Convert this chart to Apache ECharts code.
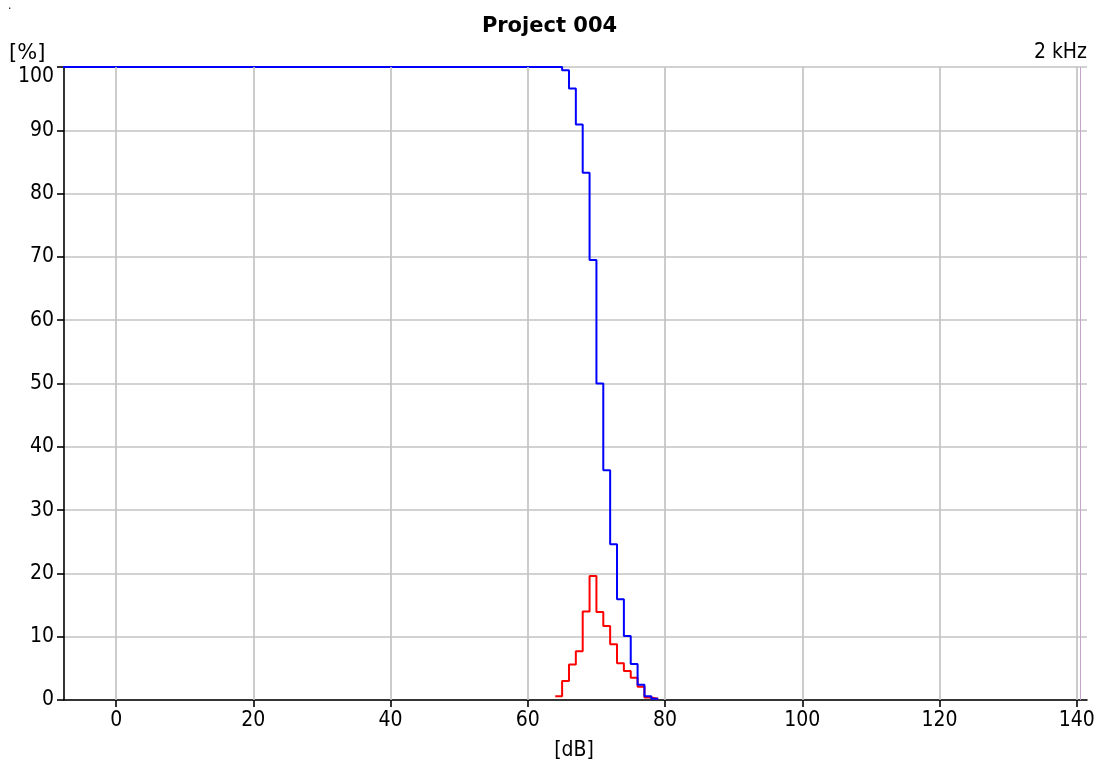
<!DOCTYPE html>
<html>
<head>
<meta charset="utf-8">
<script src="https://cdn.jsdelivr.net/npm/echarts@6/dist/echarts.min.js"></script>
<style>
  html, body { margin: 0; padding: 0; background: #fff; }
  #chart { width: 1099px; height: 767px; }
</style>
</head>
<body>
<div id="chart"></div>
<script>
// Level bins in dB (lower edge of each 1 dB bin)
const binStarts = [64, 65, 66, 67, 68, 69, 70, 71, 72, 73, 74, 75, 76, 77, 78];
// Percentage of samples falling in each bin
const histogram = [0.6, 3.0, 5.6, 7.7, 14.0, 19.6, 13.9, 11.7, 8.8, 5.8, 4.6, 3.5, 2.1, 0.4, 0.2];
// Percentage of samples at or above the upper edge of each bin
const exceedance = [100, 99.5, 96.6, 90.9, 83.3, 69.5, 50.0, 36.3, 24.6, 15.9, 10.1, 5.7, 2.4, 0.6, 0.2];
const binEnd = 79;
const levelStart = -8;

const xTicks = [0, 20, 40, 60, 80, 100, 120, 140];
const markerDb = 140.5;

const FONT = "'DejaVu Sans Condensed', 'DejaVu Sans', sans-serif";
const WIDE_FONT = "'DejaVu Sans', sans-serif";
const FS = 21;

// Step series: each point holds its value until the next bin edge
const blueData = [[levelStart, 100]];
binStarts.forEach((b, i) => { if (i > 0) blueData.push([b, exceedance[i]]); });
blueData.push([binEnd, exceedance[exceedance.length - 1]]);

const redData = binStarts.map((b, i) => [b, histogram[i]]);
redData.push([binEnd, histogram[histogram.length - 1]]);

const chart = echarts.init(document.getElementById('chart'), null, { renderer: 'canvas' });

chart.setOption({
  animation: false,
  backgroundColor: '#ffffff',
  title: {
    text: 'Project 004',
    left: 'center',
    top: 11,
    textStyle: { fontFamily: WIDE_FONT, fontSize: 21, fontWeight: 'bold', color: '#000' }
  },
  grid: { left: 64, right: 12, top: 67, bottom: 67, containLabel: false },
  xAxis: {
    type: 'value',
    min: -7.6,
    max: 141.5,
    axisLine: { show: true, onZero: false, lineStyle: { color: '#000', width: 1.6 } },
    axisTick: { show: true, customValues: xTicks, length: 7, lineStyle: { color: '#000', width: 1.6 } },
    axisLabel: { customValues: xTicks, margin: 10, fontFamily: FONT, fontSize: FS, color: '#000' },
    splitLine: { show: false }
  },
  yAxis: {
    type: 'value',
    min: 0,
    max: 100,
    interval: 10,
    axisLine: { show: true, onZero: false, lineStyle: { color: '#000', width: 1.6 } },
    axisTick: { show: true, length: 7, lineStyle: { color: '#000', width: 1.6 } },
    axisLabel: {
      margin: 10, fontFamily: FONT, fontSize: FS, color: '#000',
      // the top label sits just below its tick
      formatter: v => (v === 100 ? '{top|' + v + '}' : String(v)),
      rich: { top: { fontFamily: FONT, fontSize: FS, color: '#000', padding: [20, 0, 0, 0] } }
    },
    splitLine: { show: true, lineStyle: { color: '#c3c3c3', width: 1.7 } }
  },
  graphic: [
    { type: 'text', x: 8, y: 0, style: { text: '.', font: '12px ' + FONT, fill: '#000' } },
    { type: 'text', x: 9, y: 54, style: { text: '[%]', font: FS + 'px ' + WIDE_FONT, fill: '#000', textVerticalAlign: 'middle' } },
    { type: 'text', x: 1087, y: 53, style: { text: '2 kHz', font: FS + 'px ' + FONT, fill: '#000', textAlign: 'right', textVerticalAlign: 'middle' } },
    { type: 'text', x: 574, y: 751, style: { text: '[dB]', font: FS + 'px ' + FONT, fill: '#000', textAlign: 'center', textVerticalAlign: 'middle' } }
  ],
  series: [
    {
      // vertical grid lines at the labelled levels, plus the band marker
      type: 'line',
      data: [],
      silent: true,
      markLine: {
        silent: true,
        symbol: 'none',
        label: { show: false },
        data: xTicks.map(v => ({ xAxis: v, lineStyle: { color: '#c3c3c3', width: 1.7, type: 'solid' } }))
          .concat([{ xAxis: markerDb, lineStyle: { color: '#c8a2d0', width: 1, type: 'solid' } }])
      },
      z: 1
    },
    {
      name: 'Histogram',
      type: 'line',
      step: 'end',
      data: redData,
      showSymbol: false,
      lineStyle: { color: '#ff0000', width: 2 },
      z: 3
    },
    {
      name: 'Exceedance',
      type: 'line',
      step: 'end',
      data: blueData,
      showSymbol: false,
      lineStyle: { color: '#0000ff', width: 2 },
      z: 4
    }
  ]
});
</script>
</body>
</html>
